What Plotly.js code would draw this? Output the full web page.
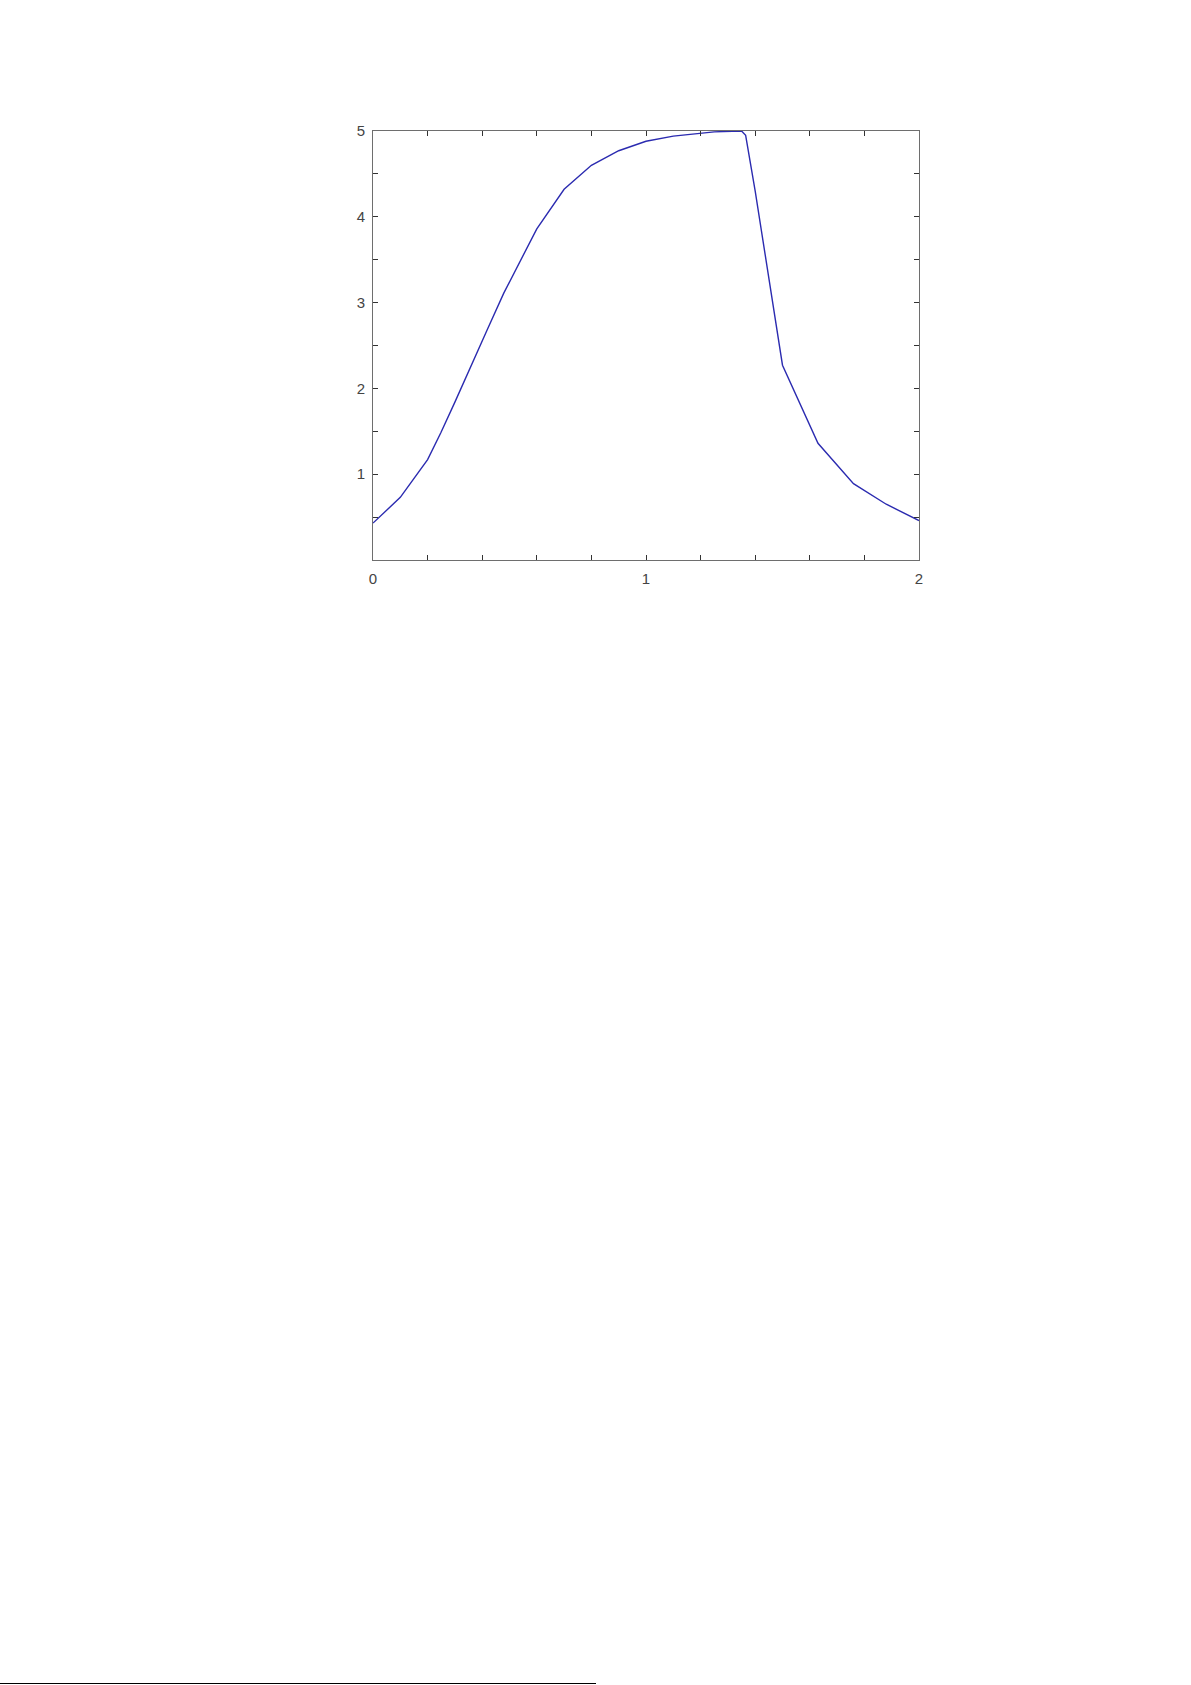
<!DOCTYPE html>
<html>
<head>
<meta charset="utf-8">
<script src="https://cdn.plot.ly/plotly-3.0.1.min.js"></script>
<style>
  html, body { margin: 0; padding: 0; background: #fff; }
  #chart { width: 1191px; height: 1685px; }
  #rule { position: absolute; left: 0; top: 1683px; width: 596px; height: 1px; background: #000; }
</style>
</head>
<body>
<div id="chart"></div>
<div id="rule"></div>
<script>
/* curve */
const xVals = [0, 0.03, 0.1, 0.2, 0.248, 0.3, 0.382, 0.4, 0.418, 0.479, 0.5, 0.54, 0.6, 0.7, 0.8, 0.9, 1.0, 1.1, 1.2, 1.25, 1.35, 1.365, 1.4, 1.5, 1.63, 1.76, 1.88, 2.0];
const yVals = [0.43, 0.52, 0.73, 1.17, 1.48, 1.84, 2.41, 2.55, 2.68, 3.11, 3.24, 3.5, 3.86, 4.32, 4.6, 4.77, 4.88, 4.94, 4.97, 4.99, 5.0, 4.95, 4.3, 2.27, 1.36, 0.89, 0.65, 0.46];

// tick positions and labels (MATLAB style: minor positions unlabeled)
const xTicks = [0, 0.2, 0.4, 0.6, 0.8, 1, 1.2, 1.4, 1.6, 1.8, 2];
const xTickText = ['0', '', '', '', '', '1', '', '', '', '', '2'];
const yTicks = [0.5, 1, 1.5, 2, 2.5, 3, 3.5, 4, 4.5, 5];
const yTickText = ['', '1', '', '2', '', '3', '', '4', '', '5'];

const trace = {
    x: xVals,
    y: yVals,
    type: 'scatter',
    mode: 'lines',
    line: { color: '#2b2bb0', width: 1.4 },
    hoverinfo: 'skip',
};

const axisBase = {
    showgrid: false,
    zeroline: false,
    showline: true,
    linecolor: '#6e6e6e',
    linewidth: 1,
    mirror: 'allticks',
    ticks: 'inside',
    ticklen: 5,
    tickwidth: 1,
    tickcolor: '#333',
    tickmode: 'array',
    tickfont: { family: 'Liberation Sans, Arial, sans-serif', size: 15, color: '#444' },
    fixedrange: true,
};

const layout = {
    width: 1191,
    height: 1685,
    margin: { l: 372.5, r: 272, t: 131, b: 1125 },
    paper_bgcolor: '#fff',
    plot_bgcolor: '#fff',
    showlegend: false,
    xaxis: {
        ...axisBase,
        range: [0, 2],
        tickvals: xTicks,
        ticktext: xTickText,
        ticklabelstandoff: 5,
    },
    yaxis: {
        ...axisBase,
        range: [0, 5],
        tickvals: yTicks,
        ticktext: yTickText,
        ticklabelstandoff: 4,
    },
};

Plotly.newPlot('chart', [trace], layout, { staticPlot: true, displayModeBar: false });
</script>
</body>
</html>
